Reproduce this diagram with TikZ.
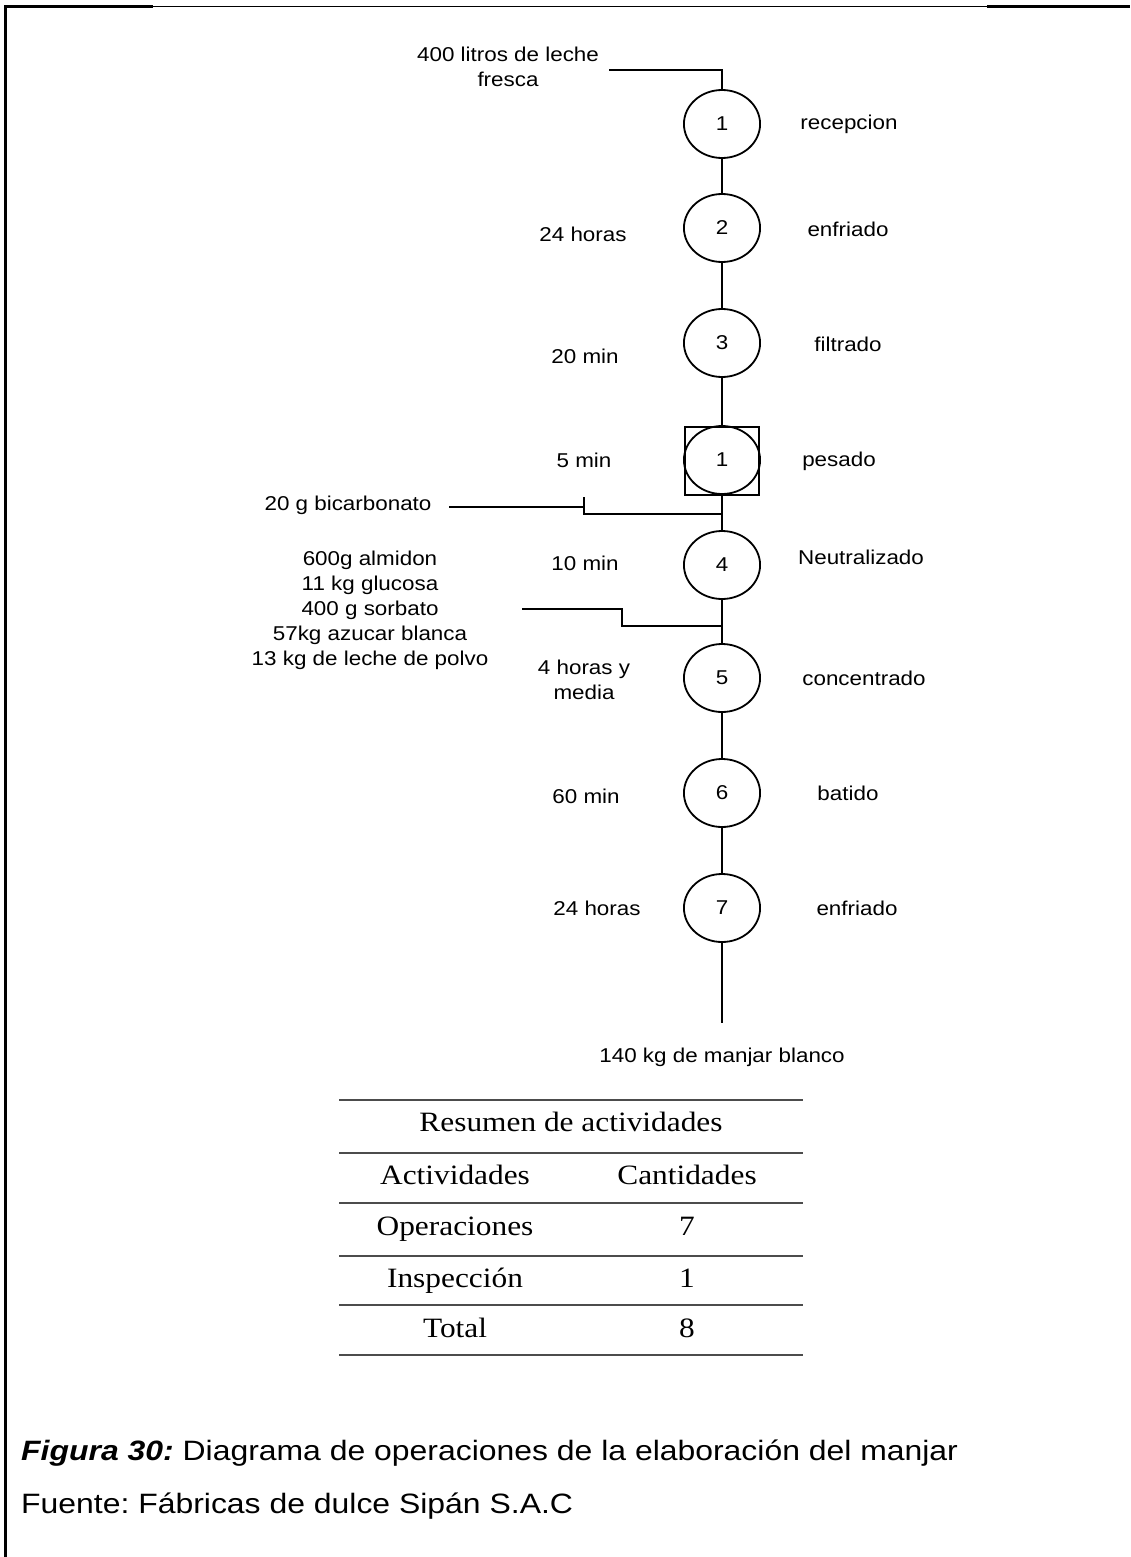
\documentclass[tikz,border=0pt]{standalone}
\usepackage{fontspec}
\newfontfamily\diagsans{Liberation Sans}
\newfontfamily\tabserif{Liberation Serif}
\frenchspacing
\begin{document}
\begin{tikzpicture}[x=1pt,y=-1pt,
  wire/.style={line width=1.8pt, black},
  frameline/.style={line width=2.8pt, black},
  tabrule/.style={line width=1.4pt, black!70},
  opnode/.style={draw, circle, line width=1.8pt, minimum size=68pt, inner sep=0pt,
    xscale=1.12, font=\diagsans\fontsize{20}{25}\selectfont},
  inspbox/.style={draw, rectangle, line width=1.6pt, minimum width=74pt,
    minimum height=68pt, inner sep=0pt},
  lbl/.style={inner sep=0pt, xscale=1.12, align=center,
    font=\diagsans\fontsize{20}{25}\selectfont},
  tabtxt/.style={inner sep=0pt, anchor=base, xscale=1.12,
    font=\tabserif\fontsize{28}{32}\selectfont},
  captxt/.style={inner sep=0pt, anchor=base west, xscale=1.14,
    font=\diagsans\fontsize{28}{32}\selectfont}]

% page size and frame
\useasboundingbox (0,0) rectangle (1130,1557);
\fill[white] (0,0) rectangle (1130,1557);
\draw[line width=1.3pt] (5,6.5) -- (1130,6.5);
\draw[frameline] (4,6.5) -- (153,6.5);
\draw[frameline] (987,6.5) -- (1130,6.5);
\draw[frameline] (5.5,5.2) -- (5.5,1557);

% operations and inspection
\node[opnode] (c1) at (722,124) {1};
\node[opnode] (c2) at (722,228) {2};
\node[opnode] (c3) at (722,343) {3};
\node[inspbox] (sq) at (722,461) {};
\node[opnode] (ci) at (722,460) {1};
\node[opnode] (c4) at (722,565) {4};
\node[opnode] (c5) at (722,678) {5};
\node[opnode] (c6) at (722,793) {6};
\node[opnode] (c7) at (722,908) {7};

% main flow line
\coordinate (leche) at (609,70);
\draw[wire] (leche) -| (c1.north);
\draw[wire] (c1.south) -- (c2.north);
\draw[wire] (c2.south) -- (c3.north);
\draw[wire] (c3.south) -- (sq.north);
\draw[wire] (sq.south) -- (c4.north);
\draw[wire] (c4.south) -- (c5.north);
\draw[wire] (c5.south) -- (c6.north);
\draw[wire] (c6.south) -- (c7.north);
\coordinate (fin) at (722,1023);
\draw[wire] (c7.south) -- (fin);

% additions to the flow
\coordinate (bicA) at (449,507);
\coordinate (bicB) at (584,507);
\coordinate (bicT) at (584,497);
\coordinate (bicJ) at (722,514);
\draw[wire] (bicA) -- (bicB);
\draw[wire] (bicT) |- (bicJ);
\coordinate (insA) at (522,609);
\coordinate (insJ) at (722,626);
\draw[wire] (insA) -- ++(100,0) |- (insJ);

% inputs and output
\node[lbl] (tleche) at (508,67) {400 litros de leche\\fresca};
\node[lbl] (tbic) at (348,505) {20 g bicarbonato};
\node[lbl] (tins) at (370,610) {600g almidon\\11 kg glucosa\\400 g sorbato\\57kg azucar blanca\\13 kg de leche de polvo};
\node[lbl] (tfin) at (722,1057) {140 kg de manjar blanco};

% times
\node[lbl] (t2) at (583,234) {24 horas};
\node[lbl] (t3) at (585,356) {20 min};
\node[lbl] (ti) at (584,460) {5 min};
\node[lbl] (t4) at (585,563) {10 min};
\node[lbl] (t5) at (584,680) {4 horas y\\media};
\node[lbl] (t6) at (586,796) {60 min};
\node[lbl] (t7) at (597,908) {24 horas};

% activity names
\node[lbl] (n1) at (849,124) {recepcion};
\node[lbl] (n2) at (848,229) {enfriado};
\node[lbl] (n3) at (848,344) {filtrado};
\node[lbl] (ni) at (839,461) {pesado};
\node[lbl] (n4) at (861,557) {Neutralizado};
\node[lbl] (n5) at (864,678) {concentrado};
\node[lbl] (n6) at (848,793) {batido};
\node[lbl] (n7) at (857,908) {enfriado};

% summary table
\foreach \yy in {1100,1153,1203,1256,1305,1355}
  \draw[tabrule] (339,\yy) -- (803,\yy);
\node[tabtxt] (rtitle) at (571,1131) {Resumen de actividades};
\node[tabtxt] (rh1) at (455,1184) {Actividades};
\node[tabtxt] (rh2) at (687,1184) {Cantidades};
\node[tabtxt] (ra1) at (455,1235) {Operaciones};
\node[tabtxt] (rb1) at (687,1235) {7};
\node[tabtxt] (ra2) at (455,1287) {Inspección};
\node[tabtxt] (rb2) at (687,1287) {1};
\node[tabtxt] (ra3) at (455,1337) {Total};
\node[tabtxt] (rb3) at (687,1337) {8};

% caption
\node[captxt] (cap1) at (21,1460) {\textbf{\itshape Figura 30:} Diagrama de operaciones de la elaboración del manjar};
\node[captxt] (cap2) at (21,1513) {Fuente: Fábricas de dulce Sipán S.A.C};
\end{tikzpicture}
\end{document}
